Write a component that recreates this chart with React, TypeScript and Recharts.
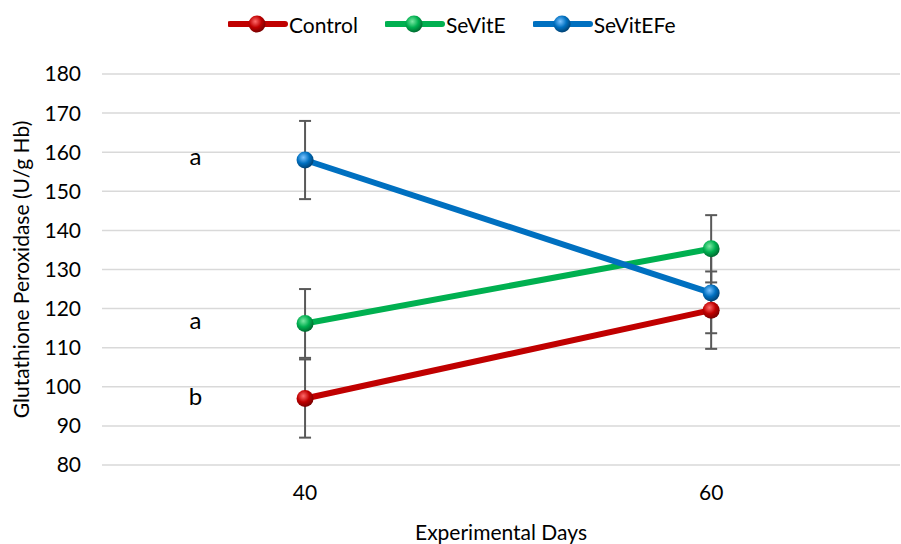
import React from 'react'
import { LineChart, Line, XAxis, YAxis, CartesianGrid, ErrorBar, ReferenceDot } from 'recharts'

const days = [40, 60]
const controlValues = [97, 119.6]
const controlErrors = [10, 9.9]
const seVitEValues = [116.2, 135.3]
const seVitEErrors = [8.8, 8.6]
const seVitEFeValues = [158, 124]
const seVitEFeErrors = [10, 10.3]
const yTicks = [80, 90, 100, 110, 120, 130, 140, 150, 160, 170, 180]
const letters = ['a', 'a', 'b']
const letterValues = [158.8, 117, 97.4]

const series = [
  { key: 'Control', err: 'ControlErr', color: '#C00000', light: '#FF6B6B', dark: '#7A0000' },
  { key: 'SeVitE', err: 'SeVitEErr', color: '#00B050', light: '#7CE8A4', dark: '#006B30' },
  { key: 'SeVitEFe', err: 'SeVitEFeErr', color: '#0070C0', light: '#7BC3FF', dark: '#004274' },
]

const data = days.map((d, i) => ({
  day: d,
  Control: controlValues[i],
  ControlErr: controlErrors[i],
  SeVitE: seVitEValues[i],
  SeVitEErr: seVitEErrors[i],
  SeVitEFe: seVitEFeValues[i],
  SeVitEFeErr: seVitEFeErrors[i],
}))

const FONT = 'Lato, "Open Sans", sans-serif'

const Ball = (props: any) => {
  const { cx, cy, gradId } = props
  if (cx == null || cy == null) return null
  return <circle cx={cx} cy={cy} r={8.5} fill={`url(#${gradId})`} />
}

const LegendRow = () => (
  <div
    style={{
      position: 'absolute',
      top: 11,
      left: 228,
      display: 'flex',
      alignItems: 'center',
      fontFamily: FONT,
      fontSize: 21,
      color: '#000',
    }}
  >
    {series.map((s, i) => (
      <div key={s.key} style={{ display: 'flex', alignItems: 'center', marginRight: i < 2 ? 27 : 0 }}>
        <svg width={60} height={26}>
          <line x1={2} y1={13} x2={57} y2={13} stroke={s.color} strokeWidth={6} strokeLinecap="round" />
          <circle cx={29} cy={13} r={8.5} fill={`url(#g-${s.key})`} />
        </svg>
        <span style={{ marginLeft: 1 }}>{s.key}</span>
      </div>
    ))}
  </div>
)

export default function App() {
  return (
    <div style={{ position: 'absolute', left: 0, top: 0, width: 901, height: 544, background: '#fff' }}>
      <svg width={0} height={0} style={{ position: 'absolute' }}>
        <defs>
          {series.map((s) => (
            <radialGradient key={s.key} id={`g-${s.key}`} cx="40%" cy="35%" r="65%">
              <stop offset="0%" stopColor={s.light} />
              <stop offset="55%" stopColor={s.color} />
              <stop offset="100%" stopColor={s.dark} />
            </radialGradient>
          ))}
        </defs>
      </svg>
      <LineChart width={901} height={544} data={data} margin={{ top: 74, right: 1, bottom: 0, left: 0 }}>
        <CartesianGrid vertical={false} stroke="#D9D9D9" strokeWidth={1.5} />
        <XAxis
          dataKey="day"
          type="number"
          height={79}
          domain={[30, 69.3]}
          ticks={days}
          allowDataOverflow
          axisLine={false}
          tickLine={false}
          tickSize={0}
          tickMargin={20}
          tick={{ fontFamily: FONT, fontSize: 21, fill: '#000' }}
          label={{ value: 'Experimental Days', position: 'insideBottom', offset: 4, style: { fontFamily: FONT, fontSize: 21, fill: '#000' } }}
        />
        <YAxis
          width={102}
          domain={[80, 180]}
          ticks={yTicks}
          axisLine={false}
          tickLine={false}
          tickSize={0}
          tickMargin={21}
          tick={{ fontFamily: FONT, fontSize: 21, fill: '#000' }}
          label={{
            value: 'Glutathione Peroxidase (U/g Hb)',
            angle: -90,
            position: 'center',
            dx: -29,
            style: { fontFamily: FONT, fontSize: 21, fill: '#000', textAnchor: 'middle' },
          }}
        />
        {series.map((s) => (
          <Line
            key={s.key}
            dataKey={s.key}
            stroke={s.color}
            strokeWidth={6}
            isAnimationActive={false}
            dot={<Ball gradId={`g-${s.key}`} />}
            activeDot={false}
          >
            <ErrorBar dataKey={s.err} direction="y" width={6} strokeWidth={2} stroke="#595959" />
          </Line>
        ))}
        {letters.map((l, i) => (
          <ReferenceDot
            key={i}
            x={34.6}
            y={letterValues[i]}
            r={0}
            ifOverflow="visible"
            label={{ value: l, position: 'center', style: { fontFamily: FONT, fontSize: 24, fill: '#000' } }}
          />
        ))}
      </LineChart>
      <LegendRow />
    </div>
  )
}
